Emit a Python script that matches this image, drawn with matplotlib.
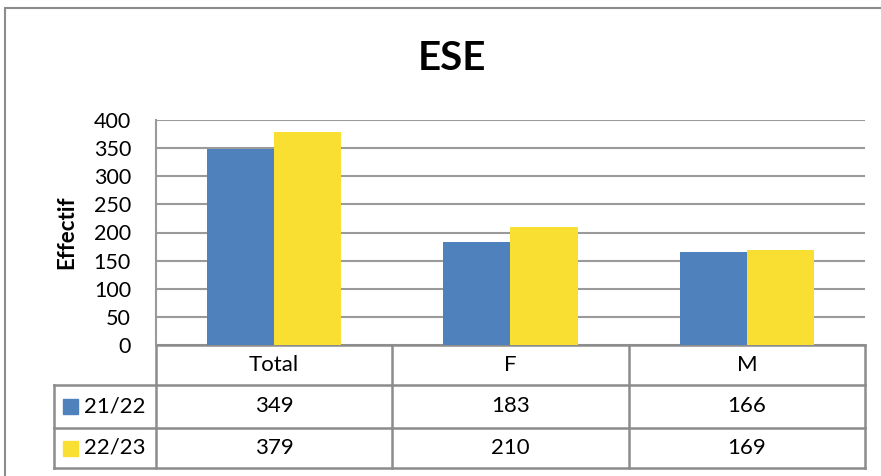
import matplotlib
matplotlib.use("Agg")
import matplotlib.pyplot as plt
from matplotlib.patches import Rectangle
from matplotlib.transforms import blended_transform_factory

categories = ["Total", "F", "M"]
series_names = ["21/22", "22/23"]
values_2122 = [349, 183, 166]
values_2223 = [379, 210, 169]
colors = ["#4F81BD", "#F8DF31"]
yticks = [0, 50, 100, 150, 200, 250, 300, 350, 400]

plt.rcParams['font.family'] = ['Lato', 'DejaVu Sans']

W, H = 881, 476
fig = plt.figure(figsize=(W / 100, H / 100), dpi=100)

# outer chart border
fig.patches.append(Rectangle((5 / W, -0.1), 1.0, 1 - 8 / H + 0.1, transform=fig.transFigure,
                             fill=False, edgecolor="#8C8C8C", linewidth=1.5))

left, right, top, bottom = 156, 865, 120, 345
ax = fig.add_axes([left / W, 1 - bottom / H, (right - left) / W, (bottom - top) / H])

x = list(range(len(categories)))
bw = 0.284
ax.bar([i - bw / 2 for i in x], values_2122, width=bw, color=colors[0], zorder=3)
ax.bar([i + bw / 2 for i in x], values_2223, width=bw, color=colors[1], zorder=3)

ax.set_xlim(-0.5, len(categories) - 0.5)
ax.set_ylim(0, 400)
ax.set_yticks(yticks)
ax.set_yticklabels([str(v) for v in yticks], fontsize=15.5)
ax.tick_params(axis='y', length=0, pad=18)
ax.set_xticks([])
ax.yaxis.grid(True, color="#9A9A9A", linewidth=1.5, zorder=0)
for s in ["top", "right", "bottom"]:
    ax.spines[s].set_visible(False)
ax.spines["left"].set_color("#9A9A9A")
ax.spines["left"].set_linewidth(1.5)

ax.set_ylabel("Effectif", fontsize=16, fontweight="bold", labelpad=12)
fig.text(452 / W, 1 - 58 / H, "ESE", fontsize=29, fontweight="bold", ha="center", va="center")

# data table
trans = blended_transform_factory(ax.transData, ax.transAxes)
ph = bottom - top
def yf(py):
    return (bottom - py) / ph
y_hdr_bot = yf(385)
y_r1_bot = yf(428)
y_r2_bot = yf(468)
x_left_col = -0.5 - (left - 54) * len(categories) / (right - left)
xr = len(categories) - 0.5
lc = "#8C8C8C"
lw = 1.8
kw = dict(transform=trans, clip_on=False, color=lc, linewidth=lw)

# horizontal lines
ax.plot([x_left_col, xr], [y_hdr_bot, y_hdr_bot], **kw)
ax.plot([x_left_col, xr], [y_r1_bot, y_r1_bot], **kw)
ax.plot([x_left_col, xr], [y_r2_bot, y_r2_bot], **kw)
ax.plot([-0.5, xr], [0, 0], **kw)
# vertical lines
ax.plot([x_left_col, x_left_col], [y_hdr_bot, y_r2_bot], **kw)
ax.plot([-0.5, -0.5], [0, y_r2_bot], **kw)
for i in range(len(categories)):
    xb = i + 0.5
    ax.plot([xb, xb], [0, y_r2_bot], **kw)

fs = 16
for i, c in enumerate(categories):
    ax.text(i, (0 + y_hdr_bot) / 2, c, transform=trans, ha="center", va="center", fontsize=fs)
    ax.text(i, (y_hdr_bot + y_r1_bot) / 2, str(values_2122[i]), transform=trans,
            ha="center", va="center", fontsize=fs)
    ax.text(i, (y_r1_bot + y_r2_bot) / 2, str(values_2223[i]), transform=trans,
            ha="center", va="center", fontsize=fs)

# legend keys in table
for name, col, (yt, yb) in zip(series_names, colors,
                               [(y_hdr_bot, y_r1_bot), (y_r1_bot, y_r2_bot)]):
    ym = (yt + yb) / 2
    fx = 63 / W
    fy = (1 - bottom / H) + ym * ph / H
    sq = 15
    fig.patches.append(Rectangle((fx, fy - sq / 2 / H), sq / W, sq / H,
                                 transform=fig.transFigure, color=col))
    fig.text(84 / W, fy, name, fontsize=fs, ha="left", va="center")

fig.savefig("out.png", dpi=100)
